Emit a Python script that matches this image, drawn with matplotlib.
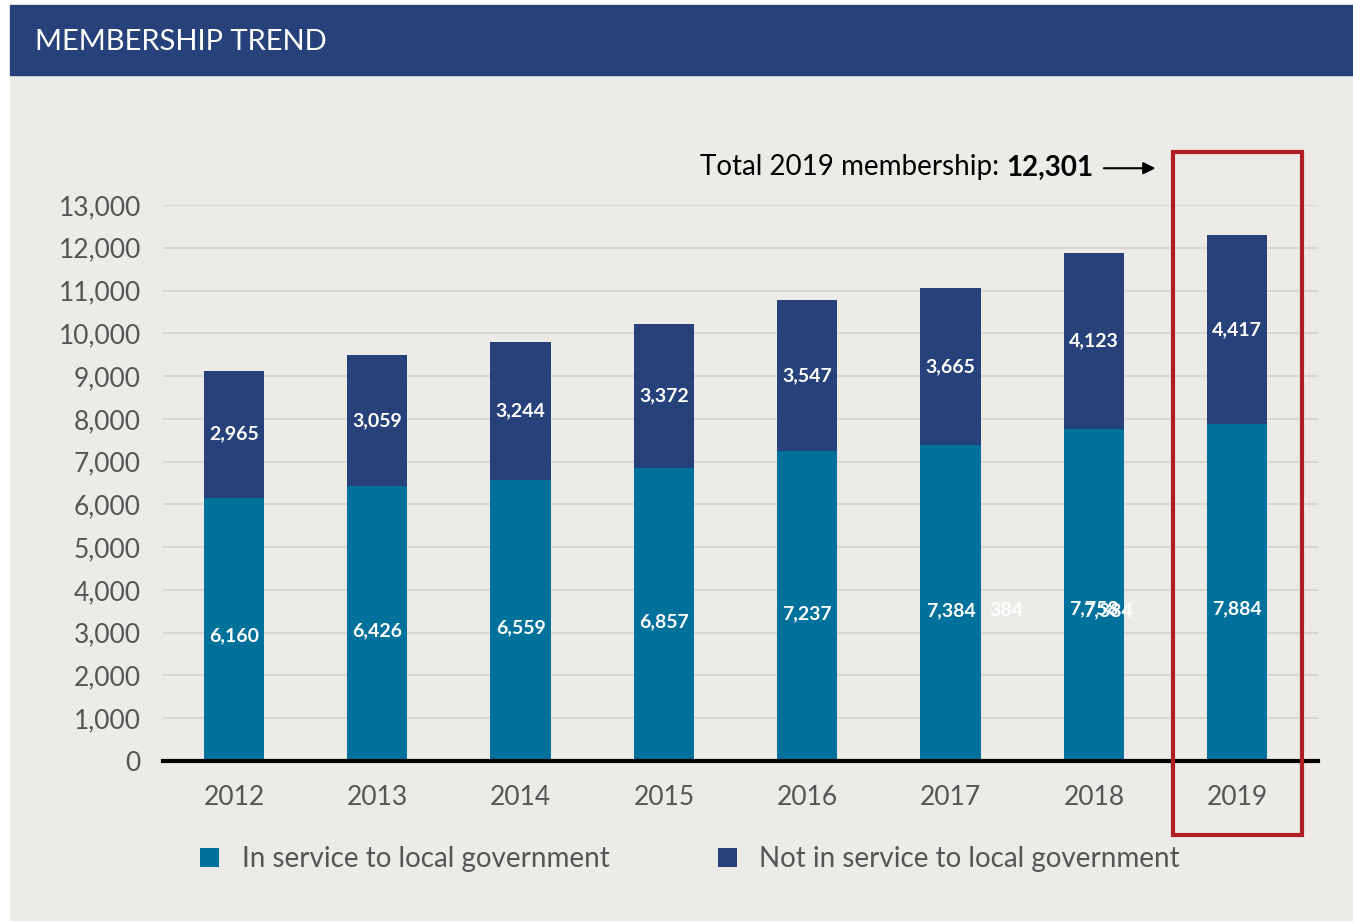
import matplotlib
matplotlib.use("Agg")
import matplotlib.pyplot as plt
from matplotlib.patches import Rectangle
import numpy as np

# =========================================
# DATA
# =========================================

years = ["2012", "2013", "2014", "2015", "2016", "2017", "2018", "2019"]
in_service = [6160, 6426, 6559, 6857, 7237, 7384, 7758, 7884]
not_in_service = [2965, 3059, 3244, 3372, 3547, 3665, 4123, 4417]
y_ticks = [0, 1000, 2000, 3000, 4000, 5000, 6000, 7000,
           8000, 9000, 10000, 11000, 12000, 13000]
legend_labels = ["In service to local government",
                 "Not in service to local government"]

# =========================================
# STYLE
# =========================================

TEAL = "#00719A"
NAVY = "#27417A"
PANEL = "#EDEBE7"
GRID = "#D8D6D3"
TICK_GRAY = "#555555"
RED = "#B01E24"

plt.rcParams["font.family"] = ["Lato", "DejaVu Sans"]

fig = plt.figure(figsize=(13.53, 9.23), dpi=100)
fig.patch.set_facecolor("white")

# panel background and header band
fig.patches.append(Rectangle((10 / 1353, 3 / 923), 1343 / 1353, 845 / 923,
                             transform=fig.transFigure, color=PANEL, zorder=-2))
fig.patches.append(Rectangle((10 / 1353, 1 - 75 / 923), 1343 / 1353, 70 / 923,
                             transform=fig.transFigure, color=NAVY, zorder=-2))
fig.text(35 / 1353, 1 - 42 / 923, "MEMBERSHIP TREND", color="white",
         fontsize=21, va="center", ha="left")

# =========================================
# AXES
# =========================================

ax = fig.add_axes([163 / 1353, 1 - 761 / 923, 1155 / 1353, 556 / 923])
ax.set_facecolor("none")

x = np.arange(len(years))
bar_w = 0.42

bars_in = ax.bar(x, in_service, width=bar_w, color=TEAL, zorder=3,
                 label=legend_labels[0])
bars_out = ax.bar(x, not_in_service, width=bar_w, bottom=in_service,
                  color=NAVY, zorder=3, label=legend_labels[1])

ax.set_xlim(-0.495, 7.564)
ax.set_ylim(0, 13000)

ax.set_yticks(y_ticks)
ax.set_yticklabels([f"{v:,}" for v in y_ticks])
ax.set_xticks(x)
ax.set_xticklabels(years)
ax.tick_params(axis="y", length=0, pad=16, labelsize=19, labelcolor=TICK_GRAY)
ax.tick_params(axis="x", length=0, pad=17, labelsize=19, labelcolor=TICK_GRAY)

ax.grid(axis="y", color=GRID, linewidth=1.5, zorder=0)
for s in ["top", "right", "left"]:
    ax.spines[s].set_visible(False)
ax.spines["bottom"].set_color("black")
ax.spines["bottom"].set_linewidth(3)
ax.spines["bottom"].set_zorder(4)

# =========================================
# VALUE LABELS
# =========================================

def low_label_y(v):
    return min(v * 0.475, 3560)

for i in range(len(years)):
    ax.text(x[i], low_label_y(in_service[i]), f"{in_service[i]:,}",
            color="white", fontsize=14, fontweight="bold",
            ha="center", va="center", zorder=5)
    ax.text(x[i], in_service[i] + not_in_service[i] / 2,
            f"{not_in_service[i]:,}", color="white", fontsize=14,
            fontweight="bold", ha="center", va="center", zorder=5)

# leftover label fragments around 2017 / 2018
ax.text(x[5] + 0.39, low_label_y(in_service[5]), "384", color="white",
        fontsize=14, fontweight="bold", ha="center", va="center", zorder=5)
ax.text(x[6] + 0.1, low_label_y(in_service[5]), f"{in_service[5]:,}",
        color="white", fontsize=14, fontweight="bold",
        ha="center", va="center", zorder=5)

# =========================================
# 2019 HIGHLIGHT
# =========================================

total_2019 = in_service[-1] + not_in_service[-1]
ax.add_patch(Rectangle((x[-1] - 0.45, -1730), 0.9, 15970, fill=False,
                       edgecolor=RED, linewidth=3, clip_on=False, zorder=6))

ax.text(5.39, 13880, "Total 2019 membership: ", fontsize=20, color="black",
        ha="right", va="center")
ax.text(5.39, 13880, f"{total_2019:,}", fontsize=20, fontweight="bold",
        color="black", ha="left", va="center")
ax.annotate("", xy=(6.43, 13860), xytext=(6.07, 13860),
            arrowprops=dict(arrowstyle="-|>", color="black", lw=1.5,
                            mutation_scale=18, shrinkA=0, shrinkB=0),
            annotation_clip=False)

# =========================================
# LEGEND
# =========================================

fig.legend(handles=[bars_in, bars_out], labels=legend_labels,
           loc="center left", bbox_to_anchor=(175 / 1353, 1 - 859 / 923),
           ncol=2, frameon=False, fontsize=20, labelcolor=TICK_GRAY,
           handlelength=0.7, handleheight=0.7, handletextpad=0.8,
           columnspacing=3.9)

fig.savefig("out.png", dpi=100, facecolor=fig.get_facecolor())
